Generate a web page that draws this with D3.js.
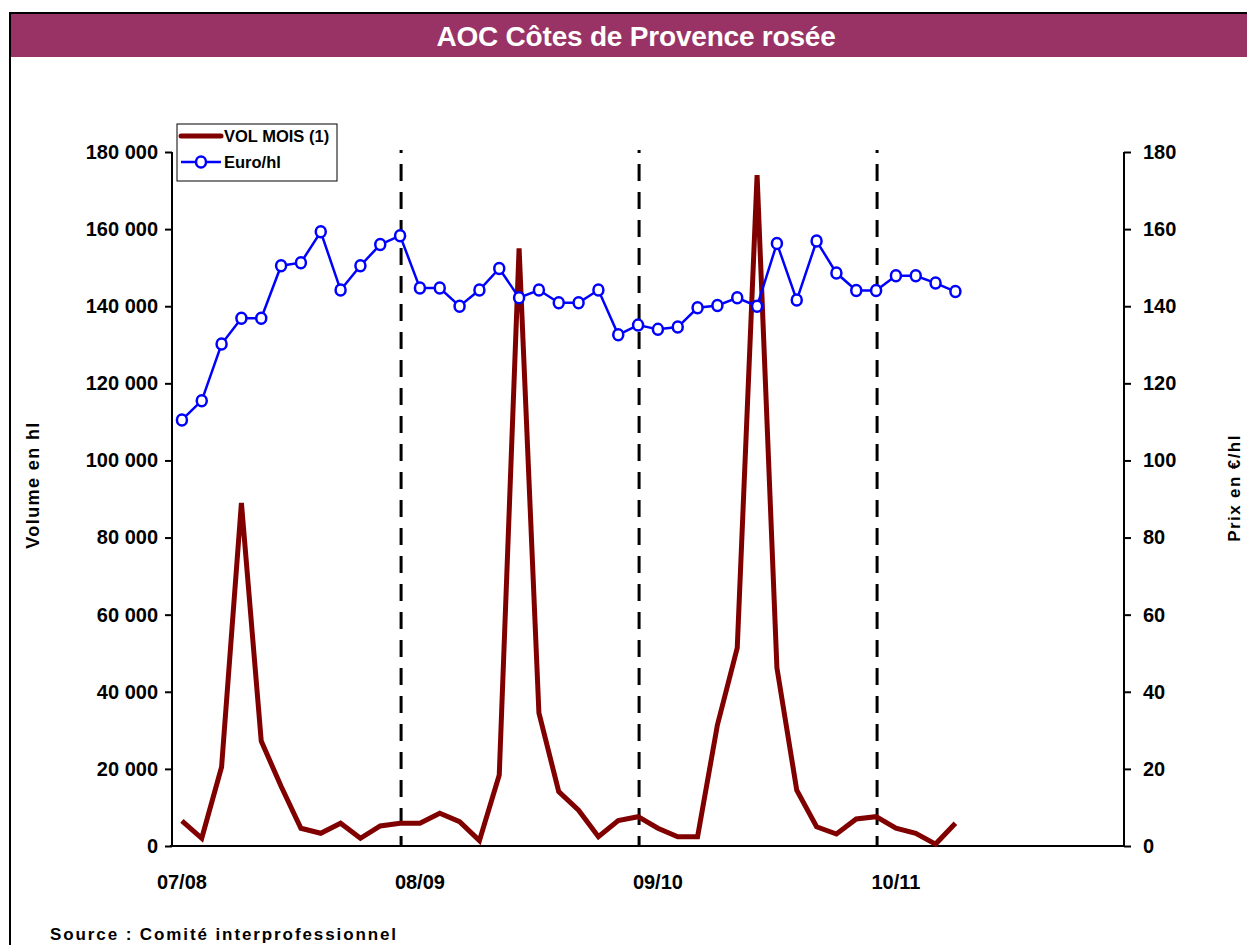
<!DOCTYPE html>
<html>
<head>
<meta charset="utf-8">
<script src="https://cdn.jsdelivr.net/npm/d3@7"></script>
<style>
  html, body { margin: 0; padding: 0; background: #fff; }
  svg text { font-family: Arial, "Liberation Sans", sans-serif; font-weight: bold; }
</style>
</head>
<body>
<div id="chart"></div>
<script>
// monthly volumes (hl) and prices (€/hl), Aug 07 -> Nov 10
const volMois = [
  6500, 2000, 20500, 89000, 27200, 15500, 4600, 3300, 5900, 2000, 5200, 5900,
  5900, 8500, 6300, 1400, 18400, 155000, 34500, 14100, 9300, 2400, 6600, 7600,
  4600, 2400, 2400, 31400, 51400, 174000, 46200, 14500, 5000, 3100, 7000, 7600,
  4600, 3300, 500, 5900
];
const euroHl = [
  110.5, 115.5, 130.2, 136.9, 136.9, 150.5, 151.3, 159.3, 144.2, 150.5, 156, 158.3,
  144.7, 144.7, 140, 144.2, 149.8, 142.2, 144.2, 140.9, 140.9, 144.2, 132.6, 135.1,
  134, 134.6, 139.6, 140.2, 142.2, 140, 156.3, 141.6, 156.9, 148.6, 144.1, 144.1,
  147.9, 147.9, 146, 143.8
];
const nSlots = 48;
const campaignLabels = ['07/08', '08/09', '09/10', '10/11'];
const labelIdx = [0, 12, 24, 36];
const dashIdx = [11, 23, 35];
const volTicks = d3.range(0, 180001, 20000);
const prixTicks = d3.range(0, 181, 20);

const W = 1247, H = 945;
const m = { left: 172, right: 1124, top: 152, bottom: 846 };

const svg = d3.select('#chart').append('svg')
  .attr('width', W).attr('height', H);

// frame + title bar
svg.append('rect').attr('x', 9).attr('y', 14).attr('width', W).attr('height', 43)
  .attr('fill', '#993366');
svg.append('line').attr('x1', 9).attr('x2', W).attr('y1', 13).attr('y2', 13)
  .attr('stroke', '#000').attr('stroke-width', 2);
svg.append('line').attr('x1', 10).attr('x2', 10).attr('y1', 13).attr('y2', H)
  .attr('stroke', '#000').attr('stroke-width', 2);
svg.append('text').attr('x', 636).attr('y', 46).attr('text-anchor', 'middle')
  .attr('fill', '#fff').attr('font-size', '28px').attr('letter-spacing', '-0.2px')
  .text('AOC Côtes de Provence rosée');

const x = d3.scaleBand().domain(d3.range(nSlots)).range([m.left, m.right]);
const cx = (i) => x(i) + x.bandwidth() / 2;
const yVol = d3.scaleLinear().domain([0, 180000]).range([m.bottom, m.top]);
const yPrix = d3.scaleLinear().domain([0, 180]).range([m.bottom, m.top]);

const fmt = (v) => d3.format(',')(v).replace(/,/g, ' ');

// left axis
const gL = svg.append('g').attr('transform', `translate(${m.left},0)`)
  .call(d3.axisLeft(yVol).tickValues(volTicks).tickSize(7).tickPadding(7).tickFormat(fmt));
// right axis
const gR = svg.append('g').attr('transform', `translate(${m.right},0)`)
  .call(d3.axisRight(yPrix).tickValues(prixTicks).tickSize(7).tickPadding(12));
[gL, gR].forEach((g) => {
  g.select('.domain').attr('stroke', '#000').attr('stroke-width', 2)
    .attr('d', `M0,${m.top}V${m.bottom}`);
  g.selectAll('.tick line').attr('stroke', '#000').attr('stroke-width', 2);
  g.selectAll('.tick text').attr('font-size', '20px').attr('fill', '#000')
    .attr('font-family', 'Arial, "Liberation Sans", sans-serif').attr('font-weight', 'bold');
});

// bottom axis
svg.append('line').attr('x1', m.left - 2).attr('x2', m.right).attr('y1', m.bottom).attr('y2', m.bottom)
  .attr('stroke', '#000').attr('stroke-width', 2);
svg.selectAll('text.xlab').data(labelIdx).join('text')
  .attr('class', 'xlab').attr('x', (d) => cx(d)).attr('y', 889)
  .attr('text-anchor', 'middle').attr('font-size', '20px')
  .text((d, i) => campaignLabels[i]);

// campaign separators
svg.selectAll('line.sep').data(dashIdx).join('line')
  .attr('class', 'sep').attr('x1', (d) => cx(d) + 1).attr('x2', (d) => cx(d) + 1)
  .attr('y1', m.top - 2).attr('y2', m.bottom)
  .attr('stroke', '#000').attr('stroke-width', 3).attr('stroke-dasharray', '17,11')
  .attr('stroke-dashoffset', 14);

// axis titles
svg.append('text').attr('transform', 'translate(39,485) rotate(-90)')
  .attr('text-anchor', 'middle').attr('font-size', '18px').attr('letter-spacing', '1.4px')
  .text('Volume en hl');
svg.append('text').attr('transform', 'translate(1240,488) rotate(-90)')
  .attr('text-anchor', 'middle').attr('font-size', '17px').attr('letter-spacing', '1.4px')
  .text('Prix en €/hl');

// volume line
svg.append('path').datum(volMois)
  .attr('d', d3.line().x((d, i) => cx(i)).y((d) => yVol(d)))
  .attr('fill', 'none').attr('stroke', '#800000').attr('stroke-width', 5)
  .attr('stroke-linejoin', 'miter').attr('stroke-miterlimit', 10);

// price line + markers
svg.append('path').datum(euroHl)
  .attr('d', d3.line().x((d, i) => cx(i)).y((d) => yPrix(d)))
  .attr('fill', 'none').attr('stroke', '#0000ff').attr('stroke-width', 2.5);
svg.selectAll('ellipse.pt').data(euroHl).join('ellipse')
  .attr('class', 'pt').attr('cx', (d, i) => cx(i)).attr('cy', (d) => yPrix(d))
  .attr('rx', 5).attr('ry', 5.5).attr('fill', '#fff').attr('stroke', '#0000ff').attr('stroke-width', 2.5);

// legend
const lg = svg.append('g');
lg.append('rect').attr('x', 177).attr('y', 124).attr('width', 160).attr('height', 57)
  .attr('fill', '#fff').attr('stroke', '#000').attr('stroke-width', 1);
lg.append('line').attr('x1', 181).attr('x2', 221).attr('y1', 136).attr('y2', 136)
  .attr('stroke', '#800000').attr('stroke-width', 5).attr('stroke-linecap', 'round');
lg.append('text').attr('x', 224).attr('y', 142).attr('font-size', '16.5px')
  .text('VOL MOIS (1)');
lg.append('line').attr('x1', 181).attr('x2', 221).attr('y1', 162).attr('y2', 162)
  .attr('stroke', '#0000ff').attr('stroke-width', 2.5);
lg.append('ellipse').attr('cx', 201).attr('cy', 162).attr('rx', 5).attr('ry', 5.5)
  .attr('fill', '#fff').attr('stroke', '#0000ff').attr('stroke-width', 2.5);
lg.append('text').attr('x', 224).attr('y', 168).attr('font-size', '16.5px')
  .text('Euro/hl');

// source
svg.append('text').attr('x', 50).attr('y', 940).attr('font-size', '17px')
  .attr('letter-spacing', '1.9px').text('Source : Comité interprofessionnel');
</script>
</body>
</html>
